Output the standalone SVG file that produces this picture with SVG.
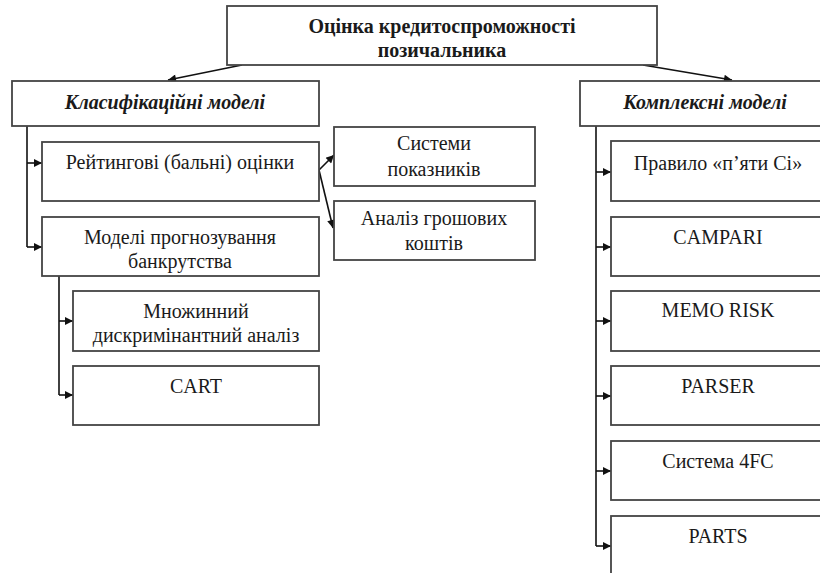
<svg xmlns="http://www.w3.org/2000/svg" width="820" height="573" viewBox="0 0 820 573">
<defs>
<marker id="ah" viewBox="0 0 10 10" refX="10" refY="5" markerWidth="10" markerHeight="8" markerUnits="userSpaceOnUse" orient="auto">
<path d="M0,0 L10,5 L0,10 z" fill="#111"/>
</marker>
</defs>
<style>
.box{fill:#fff;stroke:#444;stroke-width:1.8}
.t{font-family:'Liberation Serif','DejaVu Serif',serif;font-size:20px;fill:#1a1a1a;text-anchor:middle}
.b{font-weight:bold}
.bi{font-weight:bold;font-style:italic}
.c{fill:none;stroke:#111;stroke-width:1.6}
</style>
<rect width="820" height="573" fill="#fff"/>
<g id="connectors">
<line class="c" x1="242" y1="65" x2="168" y2="80" marker-end="url(#ah)"/>
<line class="c" x1="643" y1="65" x2="732" y2="80" marker-end="url(#ah)"/>
<polyline class="c" points="27,126 27,247"/>
<line class="c" x1="27" y1="163" x2="42" y2="163" marker-end="url(#ah)"/>
<line class="c" x1="27" y1="247" x2="42" y2="247" marker-end="url(#ah)"/>
<line class="c" x1="319" y1="170" x2="334" y2="155" marker-end="url(#ah)"/>
<line class="c" x1="319" y1="170" x2="333" y2="228" marker-end="url(#ah)"/>
<polyline class="c" points="59,276 59,395"/>
<line class="c" x1="59" y1="321" x2="73" y2="321" marker-end="url(#ah)"/>
<line class="c" x1="59" y1="395" x2="73" y2="395" marker-end="url(#ah)"/>
<polyline class="c" points="596,126 596,546"/>
<line class="c" x1="596" y1="172" x2="611" y2="172" marker-end="url(#ah)"/>
<line class="c" x1="596" y1="247" x2="611" y2="247" marker-end="url(#ah)"/>
<line class="c" x1="596" y1="321" x2="611" y2="321" marker-end="url(#ah)"/>
<line class="c" x1="596" y1="396" x2="611" y2="396" marker-end="url(#ah)"/>
<line class="c" x1="596" y1="471" x2="611" y2="471" marker-end="url(#ah)"/>
<line class="c" x1="596" y1="546" x2="611" y2="546" marker-end="url(#ah)"/>
</g>
<g id="root">
<rect class="box" x="227" y="6" width="430" height="59"/>
<text class="t b" x="442" y="33">Оцінка кредитоспроможності</text>
<text class="t b" x="442" y="57">позичальника</text>
</g>
<g id="classif">
<rect class="box" x="12" y="81" width="307" height="45"/>
<text class="t bi" x="165" y="109">Класифікаційні моделі</text>
</g>
<g id="complex">
<rect class="box" x="580" y="81" width="250" height="45"/>
<text class="t bi" x="705" y="109">Комплексні моделі</text>
</g>
<g id="rating">
<rect class="box" x="42" y="142" width="277" height="59"/>
<text class="t" x="180" y="169">Рейтингові (бальні) оцінки</text>
</g>
<g id="bankrupt">
<rect class="box" x="42" y="217" width="277" height="59"/>
<text class="t" x="180" y="244">Моделі прогнозування</text>
<text class="t" x="180" y="268">банкрутства</text>
</g>
<g id="systems">
<rect class="box" x="334" y="127" width="201" height="59"/>
<text class="t" x="434" y="150">Системи</text>
<text class="t" x="434" y="176">показників</text>
</g>
<g id="cash">
<rect class="box" x="334" y="201" width="201" height="59"/>
<text class="t" x="434" y="225">Аналіз грошових</text>
<text class="t" x="434" y="250">коштів</text>
</g>
<g id="mda">
<rect class="box" x="73" y="291" width="246" height="60"/>
<text class="t" x="196" y="318">Множинний</text>
<text class="t" x="196" y="342">дискримінантний аналіз</text>
</g>
<g id="cart">
<rect class="box" x="73" y="366" width="246" height="59"/>
<text class="t" x="196" y="393">CART</text>
</g>
<g id="five-c">
<rect class="box" x="611" y="141" width="215" height="60"/>
<text class="t" x="718" y="170">Правило «п’яти Сі»</text>
</g>
<g id="campari">
<rect class="box" x="611" y="217" width="215" height="59"/>
<text class="t" x="718" y="244">CAMPARI</text>
</g>
<g id="memo-risk">
<rect class="box" x="611" y="291" width="215" height="60"/>
<text class="t" x="718" y="317">MEMO RISK</text>
</g>
<g id="parser">
<rect class="box" x="611" y="366" width="215" height="59"/>
<text class="t" x="718" y="393">PARSER</text>
</g>
<g id="sys-4fc">
<rect class="box" x="611" y="441" width="215" height="59"/>
<text class="t" x="718" y="468">Система 4FC</text>
</g>
<g id="parts">
<rect class="box" x="611" y="516" width="215" height="70"/>
<text class="t" x="718" y="543">PARTS</text>
</g>
</svg>
